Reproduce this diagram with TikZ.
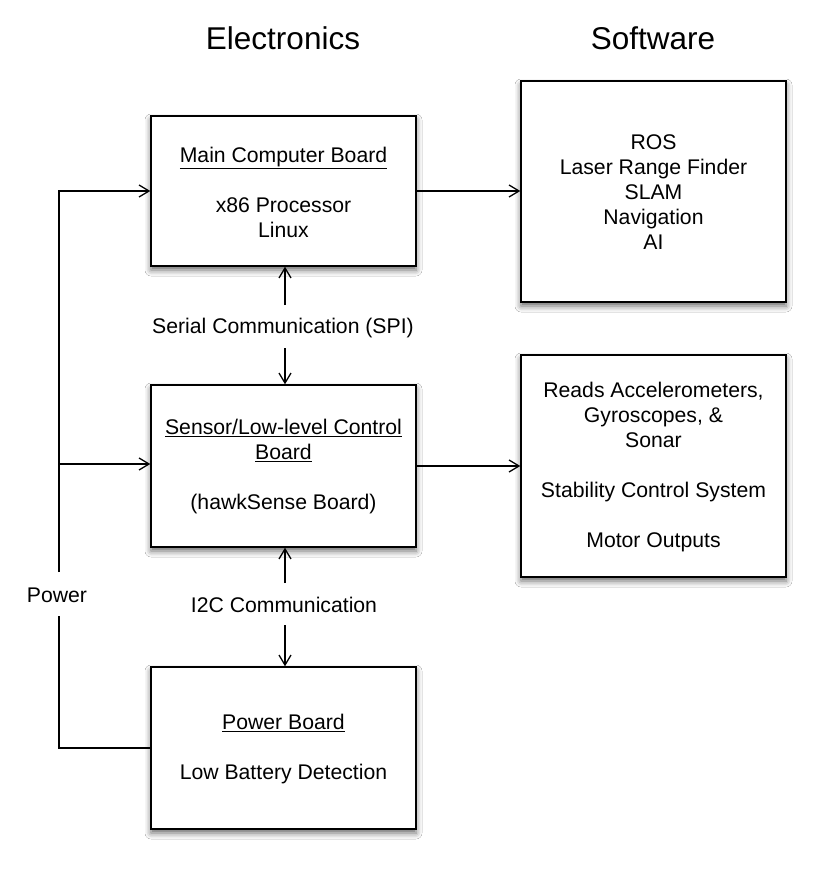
\documentclass[tikz,border=0pt]{standalone}
\usepackage{fontspec}
\setmainfont{Liberation Sans}
\usetikzlibrary{arrows.meta,shadows.blur}
\tikzset{
  board/.style={draw=black, line width=1.4pt, fill=white, minimum width=265pt, inner sep=0pt,
    blur shadow={shadow xshift=0pt, shadow yshift=-4pt, shadow blur radius=6pt, shadow opacity=60}},
  txt/.style={align=center, font=\fontsize{21.2}{25}\selectfont, inner sep=0pt},
  ttl/.style={font=\fontsize{31.5}{36}\selectfont, inner sep=0pt},
  arr/.style={line width=1.3pt, -{Straight Barb[length=10pt,width=12pt,line width=1.3pt]}},
  ln/.style={line width=1.3pt}
}
\begin{document}
\begin{tikzpicture}[x=1pt,y=-1pt]
\useasboundingbox (0,0) rectangle (821,871);
\fill[white] (0,0) rectangle (821,871);

\node[ttl] (elec) at (283,38) {Electronics};
\node[ttl] (soft) at (653,38) {Software};

\node[board, minimum height=150pt] (main) at (283.5,191) {};
\node[txt] (maint) at ([yshift=-1pt]main.center) {\underline{Main Computer Board}\\[25pt]x86 Processor\\Linux};

\node[board, minimum height=221pt] (sw1) at (653.5,191.5) {};
\node[txt] (sw1t) at ([yshift=-1pt]sw1.center) {ROS\\Laser Range Finder\\SLAM\\Navigation\\AI};

\node[board, minimum height=162pt] (sens) at (283.5,466) {};
\node[txt] (senst) at ([yshift=-1pt]sens.center) {\underline{Sensor/Low-level Control}\\\underline{Board}\\[25pt](hawkSense Board)};

\node[board, minimum height=222pt] (sw2) at (653.5,466) {};
\node[txt] (sw2t) at ([yshift=-1pt]sw2.center) {Reads Accelerometers,\\Gyroscopes, \&\\Sonar\\[25pt]Stability Control System\\[25pt]Motor Outputs};

\node[board, minimum height=162pt] (pow) at (283.5,748) {};
\node[txt] (powt) at ([yshift=-1pt]pow.center) {\underline{Power Board}\\[25pt]Low Battery Detection};

\node[txt] (serial) at (283,328) {Serial Communication (SPI)};
\node[txt] (i2c) at (284,605) {I2C Communication};
\node[txt] (powlbl) at (57,595) {Power};

\coordinate (s1) at (285,305);
\coordinate (s2) at (285,348);
\coordinate (i1) at (285,583);
\coordinate (i2) at (285,625);
\coordinate (pl) at (59,616);
\coordinate (pu) at (59,572);
\coordinate (pm) at (59,464);

\draw[arr] (main.east) -- (sw1.west |- main.east);
\draw[arr] (sens.east) -- (sw2.west |- sens.east);
\draw[arr] (s1) -- (s1 |- main.south);
\draw[arr] (s2) -- (s2 |- sens.north);
\draw[arr] (i1) -- (i1 |- sens.south);
\draw[arr] (i2) -- (i2 |- pow.north);
\draw[ln] (pow.west) -| (pl);
\draw[arr] (pu) |- (main.west);
\draw[arr] (pm) -- (sens.west |- pm);
\end{tikzpicture}
\end{document}
